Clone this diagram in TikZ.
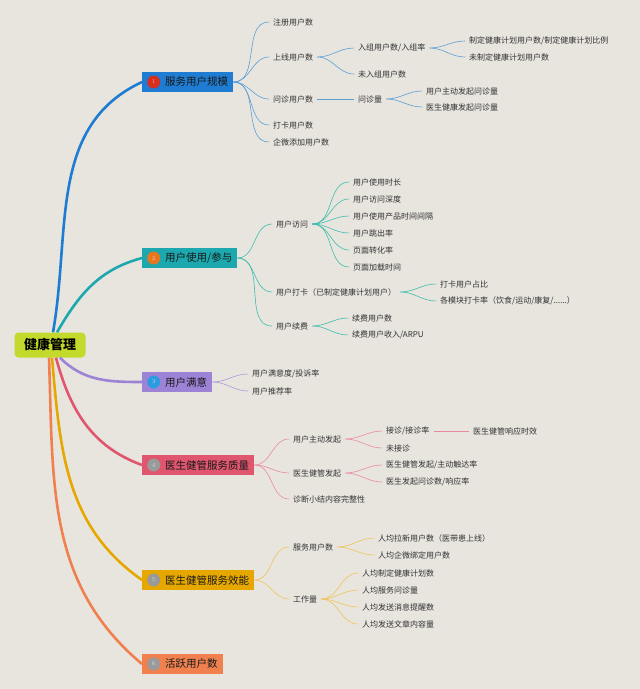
\documentclass[tikz,border=0pt]{standalone}
\usepackage{fontspec}
\usepackage{tikz}
\usetikzlibrary{positioning}
\newfontfamily\cjk{Noto Sans CJK SC}
\definecolor{vpaper}{HTML}{E8E5DF}
\definecolor{vtext}{HTML}{333333}
\definecolor{vlime}{HTML}{C3DA2C}
\definecolor{vblue}{HTML}{1E7CD2}
\definecolor{vteal}{HTML}{1CA8AE}
\definecolor{vpurple}{HTML}{9C83D6}
\definecolor{vrose}{HTML}{E0566E}
\definecolor{vamber}{HTML}{E6A800}
\definecolor{vcoral}{HTML}{F0814F}
\definecolor{vdotred}{HTML}{D62E1F}
\definecolor{vdotorange}{HTML}{E8761E}
\definecolor{vdotblue}{HTML}{2D9BE0}
\definecolor{vdotgrey}{HTML}{9A9A9A}
\definecolor{vbluel}{HTML}{5B9FD6}
\definecolor{vteall}{HTML}{3EBCAF}
\definecolor{vpurplel}{HTML}{A99BD9}
\definecolor{vrosel}{HTML}{E88A9B}
\definecolor{vamberl}{HTML}{F0C35A}
\tikzset{
  root/.style={rectangle, rounded corners=4pt, fill=vlime, text=black, minimum width=71pt,
               minimum height=25pt, font=\cjk\fontsize{13}{15}\selectfont\bfseries},
  topic/.style={rectangle, anchor=west, text=black!90, minimum height=20pt, inner xsep=5pt,
                font=\cjk\fontsize{10.5}{12}\selectfont},
  numdot/.style={circle, minimum size=13pt, inner sep=0pt, text=white, text opacity=0.6,
                 font=\fontsize{6}{6}\selectfont},
  leaf/.style={anchor=west, text=vtext, inner xsep=4pt, inner ysep=1pt,
               font=\cjk\fontsize{8}{9.6}\selectfont},
  trunk/.style={line width=2.6pt, line cap=butt},
  twig/.style={line width=0.6pt},
  fan/.style={out=0, in=180}
}
\begin{document}
\begin{tikzpicture}[x=1pt, y=-1pt]
  \fill[vpaper] (0,0) rectangle (640,689);

  \node[root] (hm) at (50,345) {健康管理};

  \node[topic, fill=vblue] (scale) at (142,82) {\hspace*{18pt}服务用户规模};
  \node[numdot, fill=vdotred, right=5pt of scale.west] (scalenum) {1};
  \node[topic, fill=vteal] (usage) at (142,258) {\hspace*{18pt}用户使用/参与};
  \node[numdot, fill=vdotorange, right=5pt of usage.west] (usagenum) {2};
  \node[topic, fill=vpurple] (satis) at (142,382) {\hspace*{18pt}用户满意};
  \node[numdot, fill=vdotblue, right=5pt of satis.west] (satisnum) {3};
  \node[topic, fill=vrose] (quality) at (142,465) {\hspace*{18pt}医生健管服务质量};
  \node[numdot, fill=vdotgrey, right=5pt of quality.west] (qualitynum) {4};
  \node[topic, fill=vamber] (effic) at (142,580) {\hspace*{18pt}医生健管服务效能};
  \node[numdot, fill=vdotgrey, right=5pt of effic.west] (efficnum) {5};
  \node[topic, fill=vcoral] (active) at (142,664) {\hspace*{18pt}活跃用户数};
  \node[numdot, fill=vdotgrey, right=5pt of active.west] (activenum) {6};

  \draw[trunk, draw=vblue] ([xshift=3pt]hm.north) to[out=80, in=205] (scale.west);
  \draw[trunk, draw=vteal] ([xshift=7pt]hm.north) to[out=60, in=195] (usage.west);
  \draw[trunk, draw=vpurple] ([xshift=10pt]hm.south) to[out=-45, in=180] (satis.west);
  \draw[trunk, draw=vrose] ([xshift=6pt]hm.south) to[out=-75, in=160] (quality.west);
  \draw[trunk, draw=vamber] ([xshift=2pt]hm.south) to[out=-85, in=145] (effic.west);
  \draw[trunk, draw=vcoral] ([xshift=-1pt]hm.south) to[out=-88, in=140] (active.west);

  \node[leaf] (b1) at (269,22) {注册用户数};
  \node[leaf] (b2) at (269,57) {上线用户数};
  \node[leaf] (b3) at (269,99) {问诊用户数};
  \node[leaf] (b4) at (269,125) {打卡用户数};
  \node[leaf] (b5) at (269,142) {企微添加用户数};
  \node[leaf] (b21) at (354,48) {入组用户数/入组率};
  \node[leaf] (b22) at (354,74) {未入组用户数};
  \node[leaf] (b31) at (354,99) {问诊量};
  \node[leaf] (b211) at (465,41) {制定健康计划用户数/制定健康计划比例};
  \node[leaf] (b212) at (465,57) {未制定健康计划用户数};
  \node[leaf] (b311) at (422,91) {用户主动发起问诊量};
  \node[leaf] (b312) at (422,107) {医生健康发起问诊量};
  \foreach \kid in {b1,b2,b3,b4,b5}
    \draw[twig, draw=vbluel] (scale.east) to[fan] (\kid.west);
  \foreach \kid in {b21,b22}
    \draw[twig, draw=vbluel] (b2.east) to[fan] (\kid.west);
  \draw[twig, draw=vbluel] (b3) -- (b31);
  \foreach \kid in {b211,b212}
    \draw[twig, draw=vbluel] (b21.east) to[fan] (\kid.west);
  \foreach \kid in {b311,b312}
    \draw[twig, draw=vbluel] (b31.east) to[fan] (\kid.west);

  \node[leaf] (t1) at (272,224) {用户访问};
  \node[leaf] (t2) at (272,292) {用户打卡（已制定健康计划用户）};
  \node[leaf] (t3) at (272,326) {用户续费};
  \node[leaf] (t11) at (349,182) {用户使用时长};
  \node[leaf] (t12) at (349,199) {用户访问深度};
  \node[leaf] (t13) at (349,216) {用户使用产品时间间隔};
  \node[leaf] (t14) at (349,233) {用户跳出率};
  \node[leaf] (t15) at (349,250) {页面转化率};
  \node[leaf] (t16) at (349,267) {页面加载时间};
  \node[leaf] (t21) at (436,284) {打卡用户占比};
  \node[leaf] (t22) at (436,301) {各模块打卡率（饮食/运动/康复/......）};
  \node[leaf] (t31) at (348,318) {续费用户数};
  \node[leaf] (t32) at (348,335) {续费用户收入/ARPU};
  \foreach \kid in {t1,t2,t3}
    \draw[twig, draw=vteall] (usage.east) to[fan] (\kid.west);
  \foreach \kid in {t11,t12,t13,t14,t15,t16}
    \draw[twig, draw=vteall] (t1.east) to[fan] (\kid.west);
  \foreach \kid in {t21,t22}
    \draw[twig, draw=vteall] (t2.east) to[fan] (\kid.west);
  \foreach \kid in {t31,t32}
    \draw[twig, draw=vteall] (t3.east) to[fan] (\kid.west);

  \node[leaf] (p1) at (248,374) {用户满意度/投诉率};
  \node[leaf] (p2) at (248,391) {用户推荐率};
  \foreach \kid in {p1,p2}
    \draw[twig, draw=vpurplel] (satis.east) to[fan] (\kid.west);

  \node[leaf] (r1) at (289,439) {用户主动发起};
  \node[leaf] (r2) at (289,473) {医生健管发起};
  \node[leaf] (r3) at (289,499) {诊断小结内容完整性};
  \node[leaf] (r11) at (382,431) {接诊/接诊率};
  \node[leaf] (r12) at (382,448) {未接诊};
  \node[leaf] (r111) at (469,431) {医生健管响应时效};
  \node[leaf] (r21) at (382,465) {医生健管发起/主动触达率};
  \node[leaf] (r22) at (382,482) {医生发起问诊数/响应率};
  \foreach \kid in {r1,r2,r3}
    \draw[twig, draw=vrosel] (quality.east) to[fan] (\kid.west);
  \foreach \kid in {r11,r12}
    \draw[twig, draw=vrosel] (r1.east) to[fan] (\kid.west);
  \draw[twig, draw=vrosel] (r11) -- (r111);
  \foreach \kid in {r21,r22}
    \draw[twig, draw=vrosel] (r2.east) to[fan] (\kid.west);

  \node[leaf] (a1) at (289,547) {服务用户数};
  \node[leaf] (a2) at (289,599) {工作量};
  \node[leaf] (a11) at (374,538) {人均拉新用户数（医带患上线）};
  \node[leaf] (a12) at (374,555) {人均企微绑定用户数};
  \node[leaf] (a21) at (358,573) {人均制定健康计划数};
  \node[leaf] (a22) at (358,590) {人均服务问诊量};
  \node[leaf] (a23) at (358,607) {人均发送消息提醒数};
  \node[leaf] (a24) at (358,624) {人均发送文章内容量};
  \foreach \kid in {a1,a2}
    \draw[twig, draw=vamberl] (effic.east) to[fan] (\kid.west);
  \foreach \kid in {a11,a12}
    \draw[twig, draw=vamberl] (a1.east) to[fan] (\kid.west);
  \foreach \kid in {a21,a22,a23,a24}
    \draw[twig, draw=vamberl] (a2.east) to[fan] (\kid.west);
\end{tikzpicture}
\end{document}
